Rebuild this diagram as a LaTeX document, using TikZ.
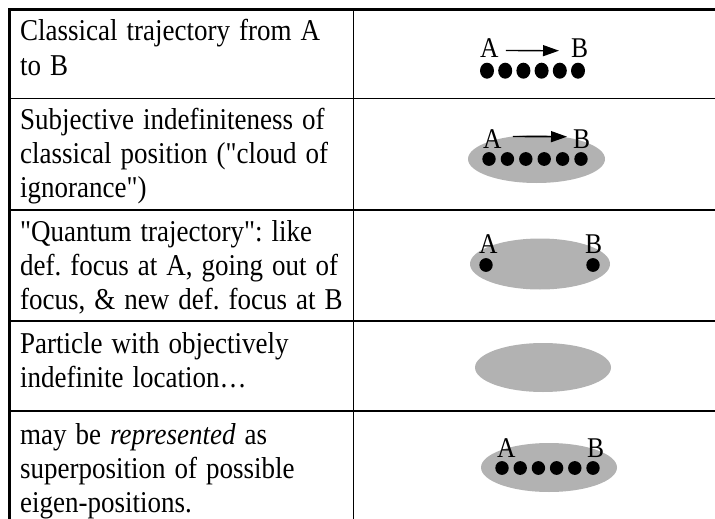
\documentclass[tikz,border=0pt]{standalone}
\usepackage{fontspec}
\setmainfont{Liberation Serif}
\usetikzlibrary{arrows.meta}
\frenchspacing
% straight double quote, loaded without the TeX text mapping
\font\quotefont="Liberation Serif" at 27pt
\newcommand{\dq}{{\quotefont\char34}}

\tikzset{
  rowrule/.style={line width=1.5pt},
  framerule/.style={line width=3pt},
  cell/.style={anchor=base west, inner sep=0pt, align=left, text width=380pt,
    yscale=1.12, transform shape, font=\fontsize{27}{30.4}\selectfont},
  letter/.style={anchor=base west, inner sep=0pt, yscale=1.12, transform shape,
    font=\fontsize{25.5}{28}\selectfont},
  blob/.style={fill=black!30},
  traj/.style={line width=1.3pt, -{Triangle[length=16pt,width=11pt]}},
}

\begin{document}
\begin{tikzpicture}[x=1pt,y=-1pt]
    \useasboundingbox (0,0) rectangle (715,519);
    \coordinate (TopLeft)  at (9.5,9.5);
    \coordinate (TopRight) at (715,9.5);
    \coordinate (BotLeft)  at (9.5,519);
    \coordinate (ColTop)   at (353.3,9.5);
    \coordinate (ColBot)   at (353.3,519);

    % table lines
    \foreach \y in {98.3,210,321,411}{
      \draw[rowrule] (9.5,\y) -- (715,\y);
    }
    \draw[rowrule] (ColTop) -- (ColBot);
    \draw[framerule] (8,9.5) -- (TopRight);
    \draw[framerule] (TopLeft) -- (BotLeft);

    % left column: the texts
    \node[cell] (TxtOne)   at (20,41)  {Classical trajectory from A\\to B};
    \node[cell] (TxtTwo)   at (20,129) {Subjective indefiniteness of\\classical position (\dq cloud of\\ignorance\dq)};
    \node[cell] (TxtThree) at (20,241) {\dq Quantum trajectory\dq: like\\def. focus at A, going out of\\focus, \& new def. focus at B};
    \node[cell] (TxtFour)  at (20,353) {Particle with objectively\\indefinite location…};
    \node[cell] (TxtFive)  at (20,444) {may be \textit{represented} as\\superposition of possible\\eigen-positions.};

    % row 1: classical path
    \node[letter] (AOne) at (480,58) {A};
    \node[letter] (BOne) at (571,58) {B};
    \draw[traj] ([shift={(7,2)}]AOne.east) -- ([shift={(-12,2)}]BOne.west);
    \foreach \i in {0,...,5}{
      \fill (487+18.2*\i,70.7) ellipse [x radius=7, y radius=8];
    }

    % row 2: cloud of ignorance
    \fill[blob] (536.5,159) ellipse [x radius=68.5, y radius=24];
    \foreach \i in {0,...,5}{
      \fill (489+18.4*\i,159) ellipse [x radius=6.7, y radius=6.9];
    }
    \node[letter] (ATwo) at (483,148) {A};
    \node[letter] (BTwo) at (573,148) {B};
    \draw[traj] ([shift={(11,-2)}]ATwo.east) -- ([shift={(-6,-2)}]BTwo.west);

    % row 3: quantum trajectory
    \fill[blob] (540,264) ellipse [x radius=70, y radius=25.5];
    \fill (486,265) ellipse [x radius=6.7, y radius=6.9];
    \fill (593,265) ellipse [x radius=6.7, y radius=6.9];
    \node[letter] (AThree) at (479,253) {A};
    \node[letter] (BThree) at (585,253) {B};

    % row 4: indefinite location
    \fill[blob] (543,367.5) ellipse [x radius=68, y radius=24.5];

    % row 5: superposition
    \fill[blob] (549,467.5) ellipse [x radius=68, y radius=24.5];
    \foreach \i in {0,...,5}{
      \fill (502+18.2*\i,468) ellipse [x radius=6.7, y radius=6.9];
    }
    \node[letter] (AFive) at (497,457) {A};
    \node[letter] (BFive) at (587,457) {B};
\end{tikzpicture}
\end{document}
